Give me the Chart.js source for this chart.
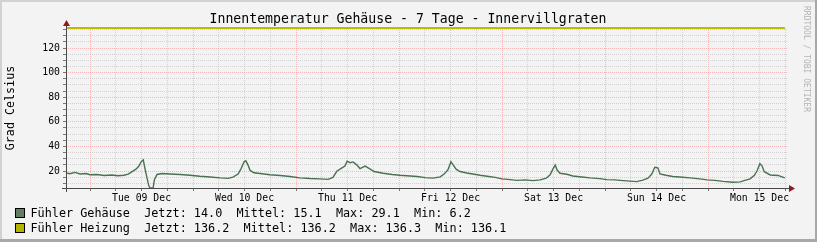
<!DOCTYPE html>
<html>
<head>
<meta charset="utf-8">
<script src="https://cdn.jsdelivr.net/npm/chart.js@4/dist/chart.umd.min.js"></script>
<style>
html,body{margin:0;padding:0;background:#F3F3F3;overflow:hidden;}
#wrap{position:relative;width:817px;height:242px;}
</style>
</head>
<body>
<div id="wrap"><canvas id="c" width="817" height="242"></canvas></div>
<script>
// ---- data (hours relative to Tue 09 Dec 00:00) ----
const titleText = 'Innentemperatur Gehäuse - 7 Tage - Innervillgraten';
const yAxisTitle = 'Grad Celsius';
const dayLabels = ['Tue 09 Dec','Wed 10 Dec','Thu 11 Dec','Fri 12 Dec','Sat 13 Dec','Sun 14 Dec','Mon 15 Dec'];
const dayLabelHours = [12,36,60,84,108,132,156];
const yTickLabels = [20,40,60,80,100,120];

const gehaeuseHours = [-5.6,-4.7,-3.5,-2.3,-0.9,0,1.6,3.3,5.1,6.5,7.9,8.9,9.8,10.7,11.4,11.9,12.4,12.8,13.3,13.7,14.0,14.7,15.0,15.6,16.8,18.6,21.0,23.3,25.6,28.0,30.3,32.2,33.3,34.5,35.2,35.9,36.3,36.8,37.3,38.2,40.1,41.9,44.3,46.6,48.9,51.3,53.6,55.5,56.6,57.5,58.7,59.4,59.9,60.6,61.3,62.2,62.9,64.1,65.2,66.2,68.3,70.4,72.2,74.6,76.2,78.1,79.9,81.6,82.5,83.4,84.1,84.6,85.3,86.2,87.8,89.2,90.9,92.5,94.4,96.0,97.9,99.5,101.4,103.2,104.9,106.3,107.2,107.9,108.4,108.8,109.5,111.1,112.5,114.6,116.5,118.8,120.4,122.3,124.2,125.8,127.4,128.8,130.0,130.9,131.6,132.3,132.8,134.2,135.8,137.4,139.8,142.1,143.8,145.6,147.5,149.8,151.5,152.6,153.8,154.8,155.4,156.1,156.6,157.1,158.5,160.3,161.9];
const gehaeuseValues = [18.5,17.8,18.9,17.6,18.0,17.0,17.2,16.4,16.8,16.2,16.6,17.5,19.5,21.5,24.0,27.5,29.1,22.0,14.0,8.0,6.2,6.2,13.0,17.2,18.0,17.6,17.2,16.6,15.8,15.2,14.4,14.0,15.0,17.5,22.0,27.5,28.3,25.0,20.5,18.6,17.8,17.0,16.4,15.6,14.4,13.9,13.6,13.2,14.8,19.8,22.5,24.0,28.0,26.8,27.4,24.8,22.0,24.0,21.8,19.6,18.2,17.2,16.6,16.0,15.6,14.6,14.2,15.2,17.5,21.0,27.5,25.0,21.5,19.6,18.4,17.6,16.6,15.8,14.8,13.6,13.0,12.4,12.8,12.2,12.8,14.2,17.0,22.0,24.8,21.0,18.2,17.4,16.0,15.2,14.4,13.8,13.0,12.8,12.2,11.8,11.4,12.6,14.2,17.5,23.0,22.6,17.6,16.6,15.6,15.2,14.4,13.6,12.8,12.4,11.6,10.9,11.2,12.4,13.6,16.5,20.0,26.0,24.0,19.5,16.8,16.4,14.5];

const heizungHours = [-5.6,30,60,100,130,161.9];
const heizungValues = [136.2,136.2,136.2,136.2,136.2,136.2];

const legendRows = [
  {text:'Fühler Gehäuse  Jetzt: 14.0  Mittel: 15.1  Max: 29.1  Min: 6.2', color:'#5F7F5F'},
  {text:'Fühler Heizung  Jetzt: 136.2  Mittel: 136.2  Max: 136.3  Min: 136.1', color:'#B3B300'}
];

const X_MIN = -5.6, X_MAX = 162.4, Y_MIN = 6.2, Y_MAX = 136.3;
const MONO = '"DejaVu Sans Mono", monospace';
const GRID_MINOR = 'rgba(195,195,195,0.7)';
const GRID_MAJOR = 'rgba(248,150,150,0.65)';

const toPts = (xs, ys) => xs.map((x,i)=>({x:x, y:ys[i]}));

const decor = {
  id:'decor',
  beforeDraw(chart){
    const c = chart.ctx, W = chart.width, H = chart.height;
    c.save();
    c.fillStyle = '#F3F3F3'; c.fillRect(0,0,W,H);
    c.fillStyle = '#D2D2D2'; c.fillRect(0,0,W,2); c.fillRect(0,0,2,H);
    c.fillStyle = '#A8A8A8'; c.fillRect(0,H-3,W,3); c.fillRect(W-2,0,2,H);
    c.restore();
  },
  afterDraw(chart){
    const c = chart.ctx, a = chart.chartArea;
    c.save();
    // axes
    c.strokeStyle = '#4A4A4A'; c.lineWidth = 1;
    c.beginPath(); c.moveTo(62, a.bottom + 0.5); c.lineTo(790, a.bottom + 0.5); c.stroke();
    c.beginPath(); c.moveTo(a.left + 0.5, a.bottom + 4); c.lineTo(a.left + 0.5, 24); c.stroke();
    // arrows
    c.fillStyle = '#8E1B1B';
    c.beginPath(); c.moveTo(789, a.bottom - 3); c.lineTo(795, a.bottom + 0.5); c.lineTo(789, a.bottom + 4); c.closePath(); c.fill();
    c.beginPath(); c.moveTo(a.left - 3, 26); c.lineTo(a.left + 0.5, 20); c.lineTo(a.left + 4, 26); c.closePath(); c.fill();
    // title
    c.fillStyle = '#000'; c.font = '13.2px ' + MONO; c.textAlign = 'center'; c.textBaseline = 'middle';
    c.fillText(titleText, 408, 20);
    // y axis title
    c.save(); c.translate(11, 108); c.rotate(-Math.PI/2);
    c.font = '11.7px ' + MONO; c.fillText(yAxisTitle, 0, 0); c.restore();
    // watermark
    c.save(); c.translate(806, 6); c.rotate(Math.PI/2);
    c.fillStyle = '#B4B4B4'; c.font = '8px ' + MONO; c.textAlign = 'left'; c.textBaseline = 'middle';
    c.fillText('RRDTOOL / TOBI OETIKER', 0, 0); c.restore();
    // legend
    c.font = '11.8px ' + MONO; c.textAlign = 'left'; c.textBaseline = 'middle';
    legendRows.forEach((r,i)=>{
      const y = 213.5 + i*15;
      c.fillStyle = r.color; c.fillRect(15.5, y-5, 9, 9);
      c.strokeStyle = '#000'; c.lineWidth = 1; c.strokeRect(15.5, y-5, 9, 9);
      c.fillStyle = '#000'; c.fillText(r.text, 30.5, y);
    });
    c.restore();
  }
};

new Chart(document.getElementById('c'), {
  type:'line',
  data:{
    datasets:[
      {label:'Fühler Heizung', data:toPts(heizungHours, heizungValues), borderColor:'#BCBC00', borderWidth:2, pointRadius:0, tension:0, clip:3},
      {label:'Fühler Gehäuse', data:toPts(gehaeuseHours, gehaeuseValues), borderColor:'#4A7150', borderWidth:1.4, pointRadius:0, tension:0, clip:3}
    ]
  },
  options:{
    responsive:false, animation:false, events:[],
    layout:{padding:{left:0, top:28, right:30, bottom:38}},
    plugins:{legend:{display:false}, title:{display:false}, tooltip:{enabled:false}},
    scales:{
      x:{
        type:'linear', min:X_MIN, max:X_MAX,
        afterBuildTicks(s){ const t=[]; for(let h=0; h<=X_MAX; h+=6) t.push({value:h}); s.ticks=t; },
        afterFit(s){ s.height = 16; },
        ticks:{
          autoSkip:false, maxRotation:0, minRotation:0, padding:2, color:'#000',
          font:{family:MONO, size:9.8},
          callback(v){ const i = dayLabelHours.indexOf(v); return i>=0 ? dayLabels[i] : ''; }
        },
        grid:{
          color:(ctx)=> (ctx.tick && ctx.tick.value % 24 === 0) ? GRID_MAJOR : GRID_MINOR,
          tickColor:'#777', tickLength:3, lineWidth:1
        },
        border:{display:false, dash:[1,1]}
      },
      y:{
        type:'linear', min:Y_MIN, max:Y_MAX,
        afterBuildTicks(s){ const t=[]; for(let v=10; v<=135; v+=5) t.push({value:v}); s.ticks=t; },
        afterFit(s){ s.width = 66; },
        ticks:{
          autoSkip:false, padding:3, color:'#000',
          font:{family:MONO, size:9.8},
          callback(v){ return yTickLabels.includes(v) ? String(v) : ''; }
        },
        grid:{
          color:(ctx)=> (ctx.tick && ctx.tick.value % 20 === 0) ? GRID_MAJOR : GRID_MINOR,
          tickColor:'#777', tickLength:3, lineWidth:1
        },
        border:{display:false, dash:[1,1]}
      }
    }
  },
  plugins:[decor]
});
</script>
</body>
</html>
